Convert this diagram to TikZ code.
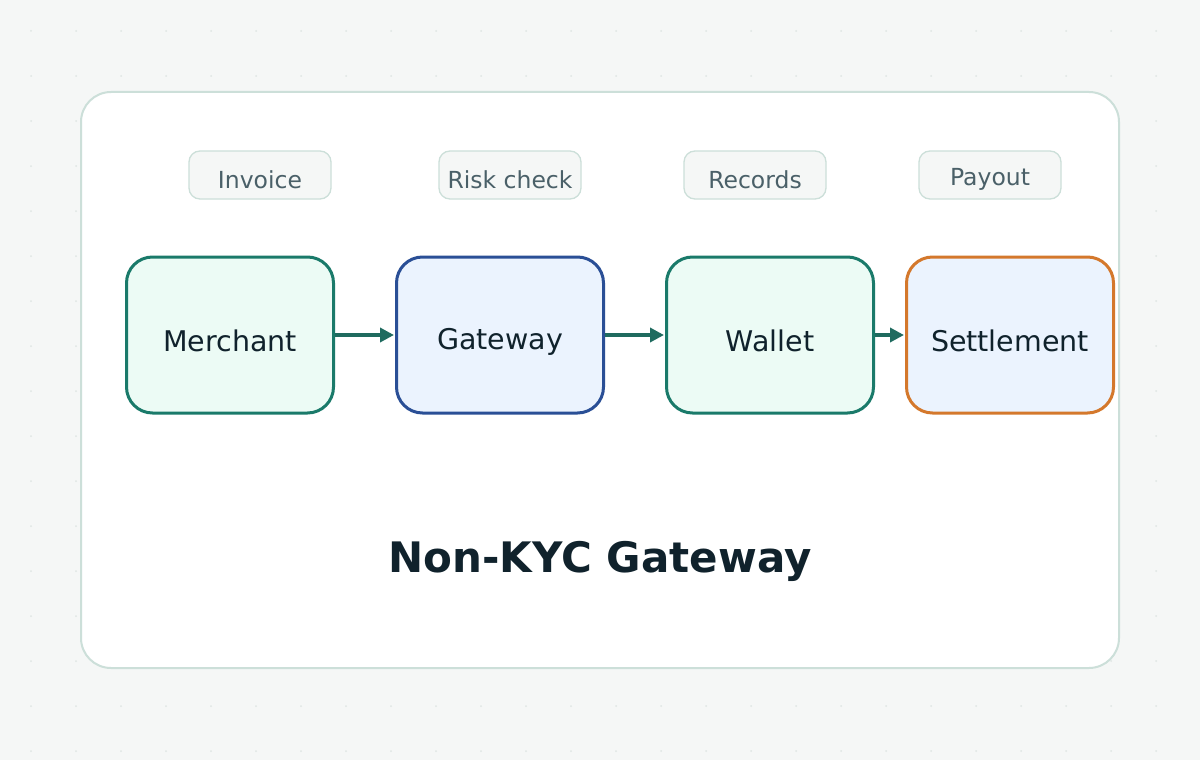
\documentclass[tikz,border=0pt]{standalone}
\usepackage{fontspec}
\setmainfont{DejaVu Sans}
\usetikzlibrary{arrows.meta}
\definecolor{bg}{HTML}{F5F7F6}
\definecolor{frame}{HTML}{CCDFD9}
\definecolor{teal}{HTML}{1A7A6A}
\definecolor{tealf}{HTML}{ECFBF5}
\definecolor{blu}{HTML}{2A4F96}
\definecolor{bluf}{HTML}{EBF3FE}
\definecolor{ora}{HTML}{D4782C}
\definecolor{arr}{HTML}{1F6B5F}
\definecolor{pilltxt}{HTML}{4A6068}
\definecolor{ink}{HTML}{10222C}
\definecolor{dot}{HTML}{DFE6E3}
\newcommand{\dn}[2]{\raisebox{-#1pt}{#2}}
\begin{document}
\begin{tikzpicture}[x=1pt,y=-1pt,
  box/.style={draw, line width=3pt, rounded corners=26pt, minimum width=207pt, minimum height=156pt, inner sep=0pt, text height=21pt, text depth=0pt, font=\fontsize{28.5}{32}\selectfont, text=ink},
  tbox/.style={box, draw=teal, fill=tealf},
  pill/.style={draw=frame, line width=1.3pt, fill=bg, rounded corners=11pt, minimum width=142pt, minimum height=48pt, inner sep=0pt, text height=17pt, text depth=0pt, text=pilltxt, font=\fontsize{23.5}{26}\selectfont},
  link/.style={draw=arr, line width=3.5pt, -{Triangle[length=14pt,width=14pt]}, shorten >=1pt}]
\fill[bg] (0,0) rectangle (1200,760);
\useasboundingbox (0,0) rectangle (1200,760);
\foreach \i in {0,...,26}{\foreach \j in {0,...,16}{
  \fill[dot] (31+45*\i,31+45*\j) circle (1pt);}}
\draw[frame, line width=2pt, fill=white, rounded corners=30pt] (81,92) rectangle (1119,668);
\node[pill] (p1) at (260,175) {\dn{5}{Invoice}};
\node[pill] (p2) at (510,175) {\dn{5}{Risk check}};
\node[pill] (p3) at (755,175) {\dn{5}{Records}};
\node[pill] (p4) at (990,175) {\dn{2}{Payout}};
\node[tbox] (m) at (230,335) {\dn{6}{Merchant}};
\node[box, draw=blu, fill=bluf] (g) at (500,335) {\dn{4}{Gateway}};
\node[tbox] (w) at (770,335) {\dn{6}{Wallet}};
\node[box, draw=ora, fill=bluf] (s) at (1010,335) {\dn{6}{Settlement}};
\draw[link] (m) -- (g);
\draw[link] (g) -- (w);
\draw[link] (w) -- (s);
\node[font=\bfseries\fontsize{42}{48}\selectfont, text=ink] (t) at (600,561) {Non-KYC Gateway};
\end{tikzpicture}
\end{document}
